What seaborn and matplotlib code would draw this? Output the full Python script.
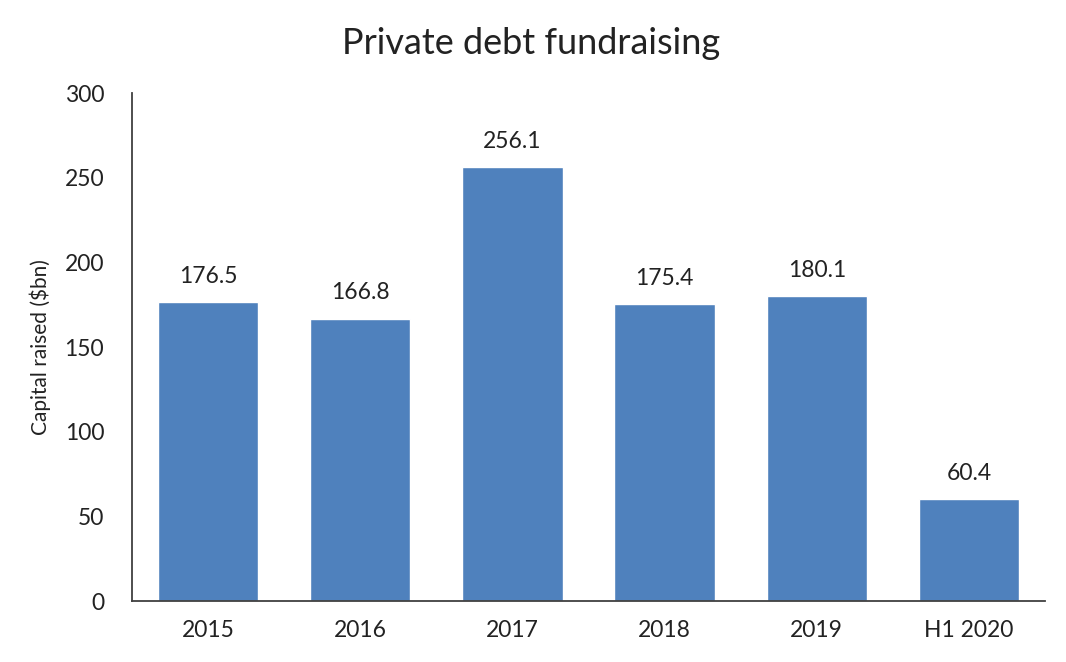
import pandas as pd
import matplotlib
matplotlib.use("Agg")
import matplotlib.pyplot as plt
import seaborn as sns

# --- data ---
periods = ["2015", "2016", "2017", "2018", "2019", "H1 2020"]
capital = [176.5, 166.8, 256.1, 175.4, 180.1, 60.4]

df = pd.DataFrame({"Period": periods, "Capital": capital})

# --- style ---
sns.set_style("white")
plt.rcParams["font.family"] = ["Lato", "DejaVu Sans"]

fig = plt.figure(figsize=(10.66, 6.62), dpi=100)
ax = fig.add_axes([0.1238, 0.0921, 0.8565, 0.7674])

sns.barplot(data=df, x="Period", y="Capital", color="#4F81BD",
            saturation=1, width=0.66, ax=ax)

for i, v in enumerate(capital):
    ax.text(i, v + 9, f"{v:.1f}", ha="center", va="bottom",
            fontsize=16.5, color="#222222")

ax.set_ylim(0, 300)
ax.set_xlim(-0.5, len(periods) - 0.5)
ax.set_yticks(range(0, 301, 50))
ax.tick_params(axis="both", length=0, labelsize=16.5, colors="#222222")
ax.tick_params(axis="x", pad=14)
ax.tick_params(axis="y", pad=20)

ax.set_xlabel("")
ax.set_ylabel("Capital raised ($bn)", fontsize=15, color="#222222", labelpad=10)

fig.text(0.498, 0.935, "Private debt fundraising", ha="center", va="center",
         fontsize=26, color="#222222")

for side in ["top", "right"]:
    ax.spines[side].set_visible(False)
for side in ["left", "bottom"]:
    ax.spines[side].set_color("#404040")
    ax.spines[side].set_linewidth(1.3)

fig.savefig("out.png", dpi=100)
